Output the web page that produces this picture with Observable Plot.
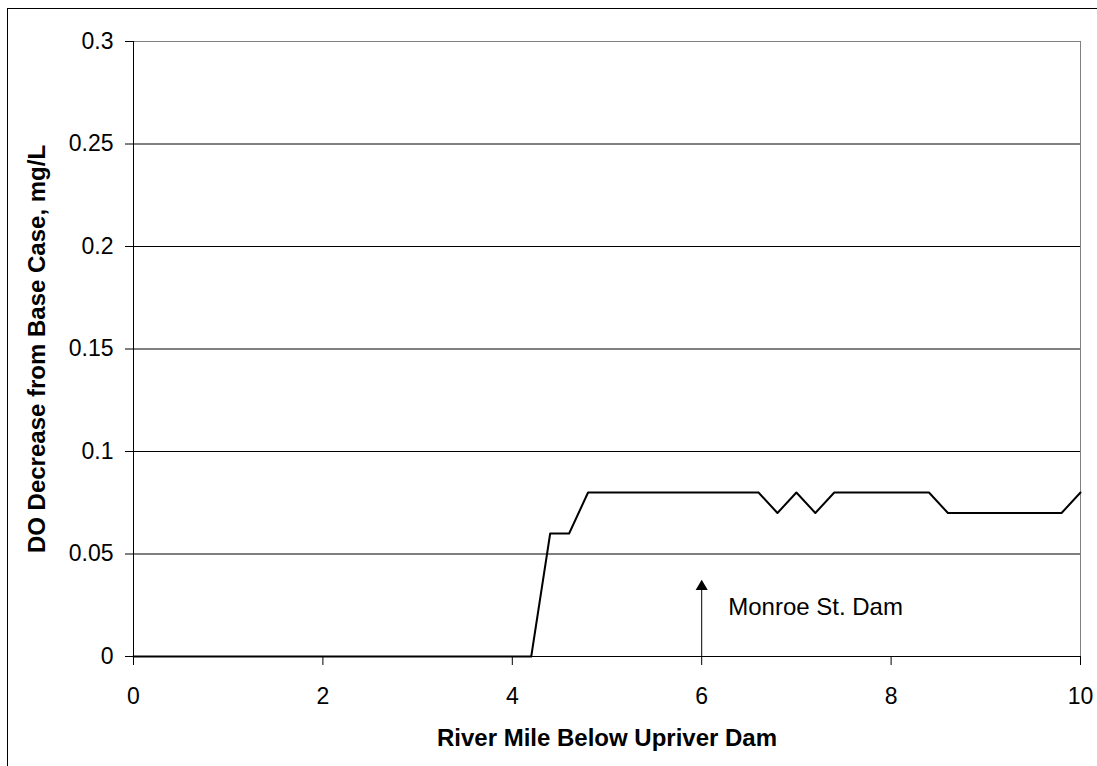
<!DOCTYPE html>
<html>
<head>
<meta charset="utf-8">
<script src="https://cdn.jsdelivr.net/npm/d3@7"></script>
<script src="https://cdn.jsdelivr.net/npm/@observablehq/plot@0.6"></script>
<style>
  html, body { margin: 0; padding: 0; background: #fff; overflow: hidden; }
  #wrap { position: relative; width: 1097px; height: 766px; }
  #border { position: absolute; left: 7px; top: 8px; width: 2000px; height: 2000px;
            border-left: 1px solid #000; border-top: 1px solid #000; pointer-events: none; }
</style>
</head>
<body>
<div id="wrap"><div id="border"></div></div>
<script>
// River mile below Upriver Dam (0.2-mile steps)
const riverMile = [
  0, 0.2, 0.4, 0.6, 0.8, 1.0, 1.2, 1.4, 1.6, 1.8,
  2.0, 2.2, 2.4, 2.6, 2.8, 3.0, 3.2, 3.4, 3.6, 3.8,
  4.0, 4.2, 4.4, 4.6, 4.8, 5.0, 5.2, 5.4, 5.6, 5.8,
  6.0, 6.2, 6.4, 6.6, 6.8, 7.0, 7.2, 7.4, 7.6, 7.8,
  8.0, 8.2, 8.4, 8.6, 8.8, 9.0, 9.2, 9.4, 9.6, 9.8, 10.0
];
// DO decrease from base case, mg/L
const doDecrease = [
  0, 0, 0, 0, 0, 0, 0, 0, 0, 0,
  0, 0, 0, 0, 0, 0, 0, 0, 0, 0,
  0, 0, 0.06, 0.06, 0.08, 0.08, 0.08, 0.08, 0.08, 0.08,
  0.08, 0.08, 0.08, 0.08, 0.07, 0.08, 0.07, 0.08, 0.08, 0.08,
  0.08, 0.08, 0.08, 0.07, 0.07, 0.07, 0.07, 0.07, 0.07, 0.07, 0.08
];
const xTicks = [0, 2, 4, 6, 8, 10];
const yTicks = [0, 0.05, 0.1, 0.15, 0.2, 0.25, 0.3];
const xTitle = "River Mile Below Upriver Dam";
const yTitle = "DO Decrease from Base Case, mg/L";
const annotationText = ["Monroe St. Dam"];
const annotationX = [6.28];
const annotationY = [0.024];
const arrowX = [6];
const arrowY1 = [0];
const arrowY2 = [0.0375];

const data = riverMile.map((m, i) => ({mile: m, value: doDecrease[i]}));
const ann = annotationText.map((t, i) => ({text: t, x: annotationX[i], y: annotationY[i]}));
const arrow = arrowX.map((x, i) => ({x, y1: arrowY1[i], y2: arrowY2[i]}));

const chart = Plot.plot({
  width: 1097,
  height: 766,
  marginLeft: 133,
  marginRight: 17,
  marginTop: 41,
  marginBottom: 110,
  style: {fontFamily: "Liberation Sans, Arial, sans-serif", fontSize: "23px", background: "transparent", color: "#000"},
  x: {domain: [0, 10]},
  y: {domain: [0, 0.3]},
  marks: [
    Plot.ruleY(yTicks.filter(d => d < 0.3), {stroke: "#000", strokeWidth: 1}),
    Plot.ruleY([0.3], {stroke: "#808080", strokeWidth: 1}),
    Plot.ruleX([10], {stroke: "#808080", strokeWidth: 1}),
    Plot.ruleX([0], {stroke: "#000", strokeWidth: 1}),
    Plot.axisY({ticks: yTicks, tickSize: 8, tickPadding: 12, tickFormat: d => String(d), label: null, fontSize: 23}),
    Plot.axisX({ticks: xTicks, tickSize: 9, tickPadding: 22, tickFormat: d => String(d), label: null, fontSize: 23}),
    Plot.ruleX(arrow, {x: "x", y1: "y1", y2: d => d.y2 - 0.004, stroke: "#000", strokeWidth: 1}),
    Plot.dot(arrow, {x: "x", y: "y2", symbol: "triangle", r: 4.5, fill: "#000", stroke: "none", dy: 7}),
    Plot.text(ann, {x: "x", y: "y", text: "text", textAnchor: "start", fontSize: 24, fill: "#000"}),
    Plot.line(data, {x: "mile", y: "value", stroke: "#000", strokeWidth: 2}),
    Plot.text([xTitle], {frameAnchor: "bottom", textAnchor: "middle", lineAnchor: "middle", dy: 82, fontWeight: "bold", fontSize: 24, fill: "#000"}),
    Plot.text([yTitle], {frameAnchor: "left", textAnchor: "middle", lineAnchor: "middle", dx: -96, rotate: -90, fontWeight: "bold", fontSize: 24, fill: "#000"})
  ]
});
document.getElementById("wrap").prepend(chart);
chart.style.position = "absolute";
chart.style.left = "0";
chart.style.top = "0";
</script>
</body>
</html>
